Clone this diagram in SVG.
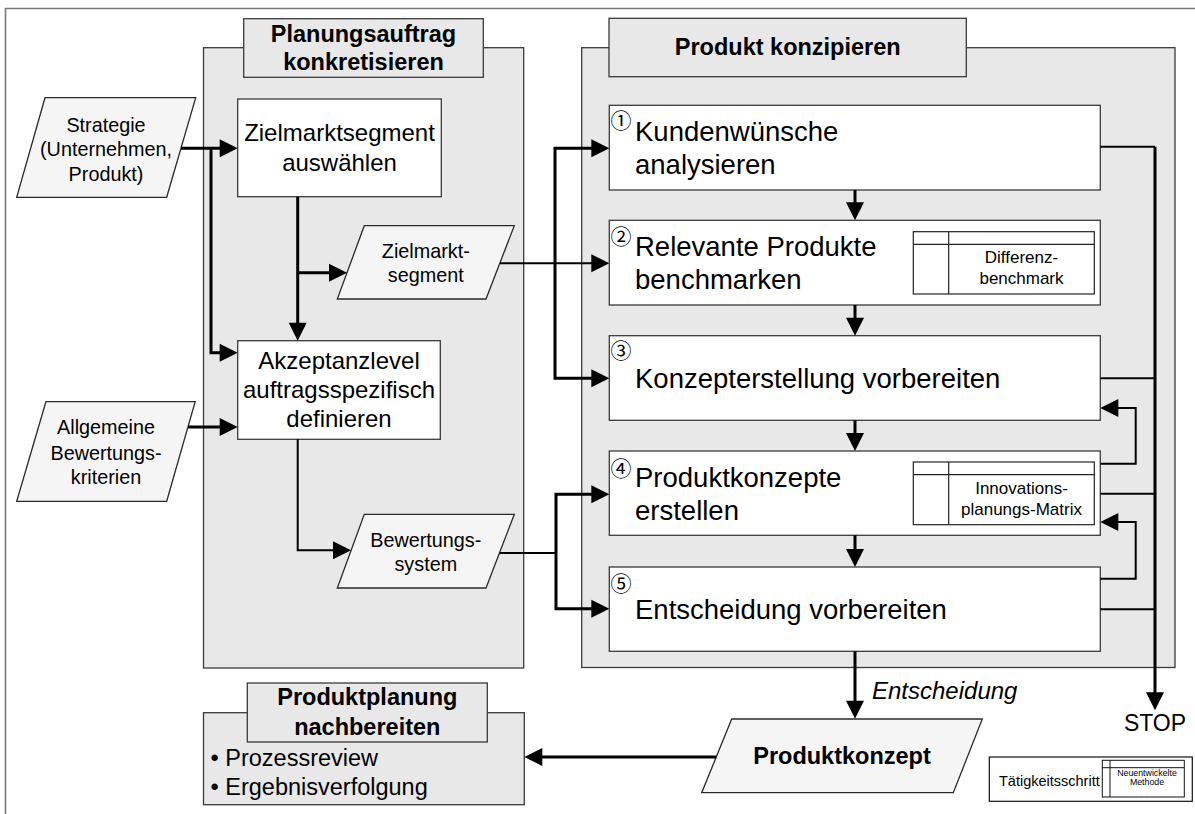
<svg xmlns="http://www.w3.org/2000/svg" width="1195" height="814" viewBox="0 0 1195 814">
  <style>
    text { font-family: "Liberation Sans", Arial, sans-serif; fill: #000; }
    .panel { fill: #e8e8e8; stroke: #3a3a3a; stroke-width: 1.3; }
    .title { fill: #e8e8e8; stroke: #3a3a3a; stroke-width: 1.3; }
    .box { fill: #ffffff; stroke: #3a3a3a; stroke-width: 1.3; }
    .data { fill: #f5f5f5; stroke: #2a2a2a; stroke-width: 1.3; }
    .tbl { fill: #ffffff; stroke: #222; stroke-width: 1.2; }
    .tline { stroke: #222; stroke-width: 1.2; fill: none; }
    .ttl { font-weight: bold; font-size: 23.5px; text-anchor: middle; }
    .proc { font-size: 24px; text-anchor: middle; }
    .dtxt { font-size: 19.8px; text-anchor: middle; }
    .step { font-size: 27.5px; }
    .num { font-family: "Noto Sans CJK JP", "DejaVu Sans", sans-serif; font-size: 21px; text-anchor: middle; }
    .meth { font-size: 17px; text-anchor: middle; }
    .thick { stroke: #000; stroke-width: 3; fill: none; }
    .thin { stroke: #000; stroke-width: 2; fill: none; }
    .arr { marker-end: url(#ah); }
  </style>
  <defs>
    <marker id="ah" markerUnits="userSpaceOnUse" markerWidth="19" markerHeight="18" refX="10" refY="9" orient="auto" overflow="visible">
      <path d="M0,0 L18,9 L0,18 Z" fill="#000"/>
    </marker>
  </defs>

  <!-- page frame -->
  <path d="M5.5,814 V8.5 H1195" fill="none" stroke="#7a7a7a" stroke-width="1.6"/>

  <!-- phase panels -->
  <g id="panel-planungsauftrag">
    <rect class="panel" x="203.5" y="47.7" width="320.2" height="620.3"/>
    <rect class="title" x="243.7" y="18.7" width="239.6" height="58.6"/>
    <text class="ttl" x="363.5" y="41.7">Planungsauftrag</text>
    <text class="ttl" x="363.5" y="70">konkretisieren</text>
  </g>
  <g id="panel-produkt">
    <rect class="panel" x="581.7" y="47.7" width="593.3" height="619.8"/>
    <rect class="title" x="609" y="18.3" width="357.3" height="58.4"/>
    <text class="ttl" x="787.7" y="55">Produkt konzipieren</text>
  </g>
  <g id="panel-nachbereiten">
    <rect class="panel" x="203.5" y="712.7" width="320.8" height="92"/>
    <rect class="title" x="247.3" y="683" width="240" height="59"/>
    <text class="ttl" x="367.3" y="705.3">Produktplanung</text>
    <text class="ttl" x="367.3" y="735.3">nachbereiten</text>
    <text x="210.5" y="766.3" font-size="23.5px">• Prozessreview</text>
    <text x="210.5" y="795.3" font-size="23.5px">• Ergebnisverfolgung</text>
  </g>

  <!-- inputs -->
  <g id="in-strategie">
    <polygon class="data" points="45,97.7 195.7,97.7 166.7,197.3 16.7,197.3"/>
    <text class="dtxt" x="106" y="131.5">Strategie</text>
    <text class="dtxt" x="106" y="156">(Unternehmen,</text>
    <text class="dtxt" x="106" y="180.5">Produkt)</text>
  </g>
  <g id="in-kriterien">
    <polygon class="data" points="45.9,401.7 195.2,401.7 166.7,501.3 16.7,501.3"/>
    <text class="dtxt" x="106" y="434.3">Allgemeine</text>
    <text class="dtxt" x="106" y="459.5">Bewertungs-</text>
    <text class="dtxt" x="106" y="484">kriterien</text>
  </g>

  <!-- planning steps -->
  <g id="zielmarkt-waehlen">
    <rect class="box" x="237.7" y="99" width="203.6" height="97.7"/>
    <text class="proc" x="339.5" y="141.3">Zielmarktsegment</text>
    <text class="proc" x="339.5" y="170.7">auswählen</text>
  </g>
  <g id="zielmarktsegment">
    <polygon class="data" points="364.3,225.7 514.3,225.7 486,299 337.3,299"/>
    <text class="dtxt" x="425.8" y="258.3">Zielmarkt-</text>
    <text class="dtxt" x="425.8" y="282">segment</text>
  </g>
  <g id="akzeptanz">
    <rect class="box" x="237.7" y="340.7" width="202.6" height="98.6"/>
    <text class="proc" x="339" y="369.3">Akzeptanzlevel</text>
    <text class="proc" x="339" y="398.3">auftragsspezifisch</text>
    <text class="proc" x="339" y="427">definieren</text>
  </g>
  <g id="bewertungssystem">
    <polygon class="data" points="364.3,514.3 514.3,514.3 486,588 337.3,588"/>
    <text class="dtxt" x="425.8" y="546.5">Bewertungs-</text>
    <text class="dtxt" x="425.8" y="570.5">system</text>
  </g>

  <!-- concept steps -->
  <g id="step1">
    <rect class="box" x="609.3" y="105.3" width="491" height="84.7"/>
    <text class="num" x="621" y="127.8">①</text>
    <text class="step" x="635" y="141">Kundenwünsche</text>
    <text class="step" x="635" y="174">analysieren</text>
  </g>
  <g id="step2">
    <rect class="box" x="609.3" y="220.3" width="491" height="84.7"/>
    <text class="num" x="621" y="243.5">②</text>
    <text class="step" x="635" y="256">Relevante Produkte</text>
    <text class="step" x="635" y="289.3">benchmarken</text>
    <rect class="tbl" x="913.3" y="231.7" width="181" height="62.3"/>
    <path class="tline" d="M913.3,244.3 H1094.3 M948.7,231.7 V294"/>
    <text class="meth" x="1021.5" y="263.3">Differenz-</text>
    <text class="meth" x="1021.5" y="284">benchmark</text>
  </g>
  <g id="step3">
    <rect class="box" x="609.3" y="335.7" width="491" height="84.6"/>
    <text class="num" x="621" y="357.8">③</text>
    <text class="step" x="635" y="388.3">Konzepterstellung vorbereiten</text>
  </g>
  <g id="step4">
    <rect class="box" x="609.3" y="451" width="491" height="84.3"/>
    <text class="num" x="621" y="475.8">④</text>
    <text class="step" x="635" y="487">Produktkonzepte</text>
    <text class="step" x="635" y="520.3">erstellen</text>
    <rect class="tbl" x="913.3" y="462" width="181" height="62.7"/>
    <path class="tline" d="M913.3,474.7 H1094.3 M948.7,462 V524.7"/>
    <text class="meth" x="1021.5" y="494.3">Innovations-</text>
    <text class="meth" x="1021.5" y="515.3">planungs-Matrix</text>
  </g>
  <g id="step5">
    <rect class="box" x="609.3" y="567" width="491" height="84.3"/>
    <text class="num" x="621" y="590.8">⑤</text>
    <text class="step" x="635" y="618.7">Entscheidung vorbereiten</text>
  </g>

  <!-- result -->
  <g id="produktkonzept">
    <polygon class="data" points="731.7,719 982.3,719 953.3,792.7 701.7,792.7"/>
    <text class="ttl" x="842" y="763.7">Produktkonzept</text>
  </g>
  <g id="stop">
    <text x="1155" y="731" font-size="23px" text-anchor="middle">STOP</text>
  </g>

  <!-- legend -->
  <g id="legend">
    <rect x="989.3" y="757" width="203" height="44.3" fill="#fff" stroke="#111" stroke-width="1.2"/>
    <text x="999" y="786" font-size="14.5px">Tätigkeitsschritt</text>
    <rect x="1102.3" y="760.3" width="82" height="36.7" fill="#fff" stroke="#111" stroke-width="1"/>
    <path d="M1102.3,767.7 H1184.3 M1110,760.3 V797" stroke="#111" stroke-width="1" fill="none"/>
    <text x="1147" y="776.3" font-size="8.8px" text-anchor="middle">Neuentwickelte</text>
    <text x="1147" y="785.3" font-size="8.8px" text-anchor="middle">Methode</text>
  </g>

  <!-- connectors -->
  <g id="connectors">
    <path class="thick arr" d="M181,148.3 H229.7"/>
    <path class="thick arr" d="M211,148.3 V352.7 H229.7"/>
    <path class="thick arr" d="M188,427 H229.7"/>
    <path class="thick arr" d="M297.7,196.7 V332.7"/>
    <path class="thick arr" d="M297.7,272.7 H339"/>
    <path class="thin arr" d="M500,263.3 H601.3"/>
    <path class="thick arr" d="M555,263.3 V148.3 H601.3"/>
    <path class="thick arr" d="M555,263.3 V378.3 H601.3"/>
    <path class="thin arr" d="M297.7,439.3 V550.3 H343"/>
    <path class="thin" d="M499.5,553 H556"/>
    <path class="thick arr" d="M556,553 V494.3 H601.3"/>
    <path class="thick arr" d="M556,553 V608.7 H601.3"/>
    <path class="thick arr" d="M855,190 V212.3"/>
    <path class="thick arr" d="M855,305 V327.7"/>
    <path class="thick arr" d="M855,420.3 V443"/>
    <path class="thick arr" d="M855,535.3 V559"/>
    <path class="thick arr" d="M855,651.3 V710.7"/>
    <path class="thin" d="M1100.3,146.7 H1155"/>
    <path class="thick arr" d="M1155,146.7 V702.3"/>
    <path class="thin" d="M1100.3,378.3 H1155 M1100.3,493.7 H1155 M1100.3,609.3 H1155"/>
    <path class="thin arr" d="M1100.3,463.7 H1135.7 V408 H1108.3"/>
    <path class="thin arr" d="M1100.3,578.7 H1135.7 V522 H1108.3"/>
    <path class="thick arr" d="M716.3,757 H532.3"/>
    <text x="872" y="698.7" font-size="24px" font-style="italic" fill="#222">Entscheidung</text>
  </g>
</svg>
